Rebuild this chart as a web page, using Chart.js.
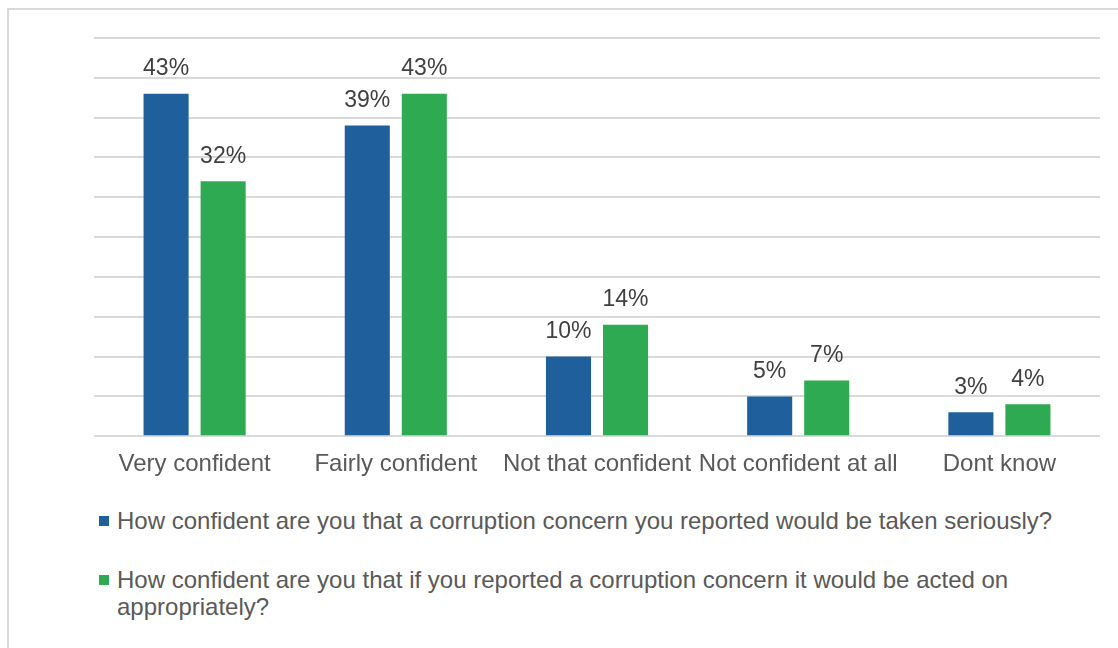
<!DOCTYPE html>
<html>
<head>
<meta charset="utf-8">
<script src="https://cdn.jsdelivr.net/npm/chart.js@4.4.0/dist/chart.umd.min.js"></script>
<style>
    body { margin: 0; background: #fff; }
    #frame {
        position: absolute; left: 7px; top: 8px; width: 1111px; height: 640px;
        border-left: 2px solid #d9d9d9; border-top: 2px solid #d9d9d9;
    }
    #wrap { position: absolute; left: 0; top: 0; width: 1118px; height: 493px; }
    #legenda {
        position: absolute; left: 99px; top: 507px; width: 990px;
        font-family: "Liberation Sans", Arial, sans-serif; font-size: 24px; color: #595959;
    }
    .item { position: relative; padding-left: 18px; line-height: 27px; margin-bottom: 32px; width: 960px; }
    .item span.box { position: absolute; left: 0; top: 9px; width: 10px; height: 10px; }
</style>
</head>
<body>
<div id="frame"></div>
<div id="wrap"><canvas id="grafico"></canvas></div>
<div id="legenda"></div>
<script>
const categorias = ['Very confident', 'Fairly confident', 'Not that confident', 'Not confident at all', 'Dont know'];
const levadoASerio = [43, 39, 10, 5, 3];
const tratadoAdequadamente = [32, 43, 14, 7, 4];
const rotulos = [
    'How confident are you that a corruption concern you reported would be taken seriously?',
    'How confident are you that if you reported a corruption concern it would be acted on appropriately?'
];
const cores = ['#1f5f9c', '#2eaa52'];

// Escreve os percentuais acima de cada barra
const rotulosValores = {
    id: 'rotulosValores',
    afterDatasetsDraw(chart) {
        const ctx = chart.ctx;
        ctx.save();
        ctx.font = '23px "Liberation Sans", Arial, sans-serif';
        ctx.fillStyle = '#404040';
        ctx.textAlign = 'center';
        ctx.textBaseline = 'middle';
        chart.data.datasets.forEach((ds, i) => {
            chart.getDatasetMeta(i).data.forEach((bar, j) => {
                ctx.fillText(ds.data[j] + '%', bar.x, bar.y - 25);
            });
        });
        ctx.restore();
    }
};

const ctx = document.getElementById('grafico').getContext('2d');
const grafico = new Chart(ctx, {
    type: 'bar',
    data: {
        labels: categorias,
        datasets: [{
            label: rotulos[0],
            data: levadoASerio,
            backgroundColor: cores[0],
            categoryPercentage: 0.567,
            barPercentage: 0.79
        },
        {
            label: rotulos[1],
            data: tratadoAdequadamente,
            backgroundColor: cores[1],
            categoryPercentage: 0.567,
            barPercentage: 0.79
        }]
    },
    options: {
        responsive: true,
        maintainAspectRatio: false,
        animation: false,
        layout: { padding: { left: 94, right: 18, top: 38, bottom: 0 } },
        plugins: {
            legend: { display: false },
            tooltip: { enabled: false }
        },
        scales: {
            x: {
                grid: { display: false, drawTicks: false },
                border: { display: false },
                ticks: {
                    color: '#595959',
                    padding: 14,
                    maxRotation: 0,
                    autoSkip: false,
                    font: { family: '"Liberation Sans", Arial, sans-serif', size: 24 }
                }
            },
            y: {
                min: 0,
                max: 50,
                ticks: { stepSize: 5, display: false },
                grid: { color: '#d9d9d9', lineWidth: 2, drawTicks: false },
                border: { display: false }
            }
        }
    },
    plugins: [rotulosValores]
});

// Legenda em HTML para permitir quebra de linha
const legenda = document.getElementById('legenda');
grafico.data.datasets.forEach(ds => {
    const div = document.createElement('div');
    div.className = 'item';
    const box = document.createElement('span');
    box.className = 'box';
    box.style.background = ds.backgroundColor;
    div.appendChild(box);
    div.appendChild(document.createTextNode(ds.label));
    legenda.appendChild(div);
});
</script>
</body>
</html>
